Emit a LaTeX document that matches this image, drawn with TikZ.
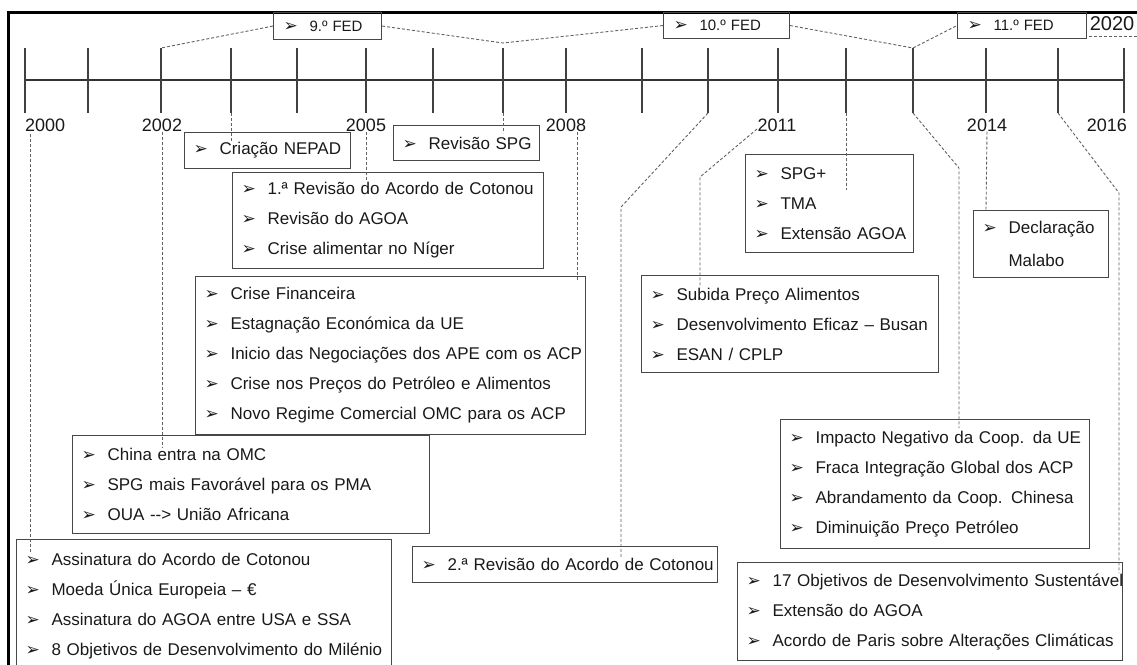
\documentclass[tikz,border=0pt]{standalone}
\usepackage{fontspec}
\setmainfont{Liberation Sans}
\newfontfamily\symfont{DejaVu Sans}
\usepackage{tikz}
\usetikzlibrary{positioning}
\colorlet{boxcol}{black!72}
\colorlet{txtcol}{black!90}
\colorlet{dashcol}{black!62}
\tikzset{
  evbox/.style={draw=boxcol, line width=1.1pt, anchor=north west, align=left,
    inner xsep=9pt, inner ysep=0pt, text=txtcol,
    font=\fontsize{17}{30}\selectfont},
  fedbox/.style={draw=boxcol, line width=1.1pt, anchor=north west, align=left,
    inner xsep=10pt, inner ysep=0pt, text=txtcol,
    font=\fontsize{15}{18}\selectfont},
  yearlab/.style={inner sep=0pt, text=txtcol, font=\fontsize{18}{20}\selectfont},
  tickline/.style={draw=black!75, line width=1.2pt},
  axisline/.style={draw=black!80, line width=1.2pt},
  link/.style={draw=dashcol, line width=0.9pt, dash pattern=on 3pt off 2pt},
}
\newcommand\bul{{\symfont\fontsize{17}{17}\selectfont ➢}}
\newcommand\itm[1]{\mbox{\makebox[26pt][l]{\bul}#1}}

\begin{document}
\begin{tikzpicture}[x=1pt,y=-1pt]
\useasboundingbox (0,0) rectangle (1137,664);
\clip (0,0) rectangle (1137,664);

% Frame
\draw[line width=3pt] (8,12) rectangle (1170,700);

% Timeline
\coordinate (axL) at (24,80);
\coordinate (axR) at (1124,80);
\draw[axisline] (axL) -- (axR);
\foreach \x [count=\i from 0] in {25,88,161,231,297,366,433,503,566,642,708,778,846,913,986,1058,1124}
  \draw[tickline] (\x,48) coordinate (top\i) -- (\x,113) coordinate (bot\i);

% Years
\node[yearlab, anchor=west] (lab00) at (25,125) {2000};
\node[yearlab] (lab02) at (162,125) {2002};
\node[yearlab] (lab05) at (366,125) {2005};
\node[yearlab] (lab08) at (566,125) {2008};
\node[yearlab] (lab11) at (777,125) {2011};
\node[yearlab] (lab14) at (987,125) {2014};
\node[yearlab, anchor=east] (lab16) at (1127,125) {2016};

% FED periods
\node[fedbox, minimum width=108pt, minimum height=27pt, text width=88pt] (fed9) at (273,12) {\itm{9.º FED}};
\node[fedbox, minimum width=126pt, minimum height=26pt, text width=106pt] (fed10) at (663,12) {\itm{10.º FED}};
\node[fedbox, minimum width=129pt, minimum height=26pt, text width=109pt] (fed11) at (957,12) {\itm{11.º FED}};
\node[inner sep=0pt, text=txtcol, font=\fontsize{20}{22}\selectfont] (y2020) at (1112,24) {2020};
\coordinate (j07) at (503,43);
\coordinate (e20a) at (1089,36);
\coordinate (e20b) at (1140,36);
\draw[link] (fed9.west) -- (top2);
\draw[link] (fed9.east) -- (j07) -- (fed10.west);
\draw[link] (fed10.east) -- (top13) -- (fed11.west);
\draw[link] (e20a) -- (e20b);

% Events
\node[evbox, minimum width=166pt, minimum height=36pt, text width=148pt] (nepad) at (184,132) {\itm{Criação NEPAD}};
\node[evbox, minimum width=146pt, minimum height=35pt, text width=128pt] (spgrev) at (393,125) {\itm{Revisão SPG}};
\node[evbox, minimum width=311pt, minimum height=96pt, text width=293pt] (rev1) at (232,172)
  {\itm{1.ª Revisão do Acordo de Cotonou}\\ \itm{Revisão do AGOA}\\ \itm{Crise alimentar no Níger}};
\node[evbox, minimum width=390pt, minimum height=158pt, text width=372pt] (crise) at (195,276)
  {\itm{Crise Financeira}\\ \itm{Estagnação Económica da UE}\\ \itm{Inicio das Negociações dos APE com os ACP}\\
   \itm{Crise nos Preços do Petróleo e Alimentos}\\ \itm{Novo Regime Comercial OMC para os ACP}};
\node[evbox, minimum width=357pt, minimum height=98pt, text width=339pt] (china) at (72,435)
  {\itm{China entra na OMC}\\ \itm{SPG mais Favorável para os PMA}\\ \itm{OUA -{}-> União Africana}};
\node[evbox, minimum width=375pt, minimum height=134pt, text width=357pt] (assin) at (16,539)
  {\itm{Assinatura do Acordo de Cotonou}\\ \itm{Moeda Única Europeia – €}\\
   \itm{Assinatura do AGOA entre USA e SSA}\\ \itm{8 Objetivos de Desenvolvimento do Milénio}};
\node[evbox, minimum width=305pt, minimum height=36pt, text width=287pt] (rev2) at (412,546) {\itm{2.ª Revisão do Acordo de Cotonou}};
\node[evbox, minimum width=168pt, minimum height=98pt, text width=150pt] (spgplus) at (745,154)
  {\itm{SPG+}\\ \itm{TMA}\\ \itm{Extensão AGOA}};
\node[evbox, minimum width=297pt, minimum height=97pt, text width=279pt] (subida) at (641,275)
  {\itm{Subida Preço Alimentos}\\ \itm{Desenvolvimento Eficaz – Busan}\\ \itm{ESAN / CPLP}};
\node[evbox, minimum width=135pt, minimum height=67pt, text width=117pt, font=\fontsize{17}{33}\selectfont] (malabo) at (973,210)
  {\itm{Declaração}\\ \hspace*{26pt}Malabo};
\node[evbox, minimum width=309pt, minimum height=129pt, text width=291pt] (impacto) at (780,419)
  {\itm{Impacto Negativo da Coop. da UE}\\ \itm{Fraca Integração Global dos ACP}\\
   \itm{Abrandamento da Coop. Chinesa}\\ \itm{Diminuição Preço Petróleo}};
\node[evbox, minimum width=385pt, minimum height=98pt, text width=367pt] (ods) at (737,562)
  {\itm{17 Objetivos de Desenvolvimento Sustentável}\\ \itm{Extensão do AGOA}\\
   \itm{Acordo de Paris sobre Alterações Climáticas}};

% Links from the years
\coordinate (s00) at (30,134);  \coordinate (e00) at (30,553);
\coordinate (e02) at (162,447);
\coordinate (e03) at (231,142);
\coordinate (e05) at (366,181);
\coordinate (e07) at (503,133);
\coordinate (s08) at (577,132); \coordinate (e08) at (577,281);
\coordinate (k10) at (621,207); \coordinate (e10) at (621,557);
\coordinate (s11) at (757,129); \coordinate (k11) at (700,177); \coordinate (e11) at (700,287);
\coordinate (e12) at (846,190);
\coordinate (k13) at (959,168); \coordinate (e13) at (959,428);
\coordinate (e14) at (986,210);
\coordinate (k15) at (1119,193); \coordinate (e15) at (1119,573);
\draw[link] (s00) -- (e00);
\draw[link] (lab02.south) -- (e02);
\draw[link] (bot3) -- (e03);
\draw[link] (lab05.south) -- (e05);
\draw[link] (bot7) -- (e07);
\draw[link] (s08) -- (e08);
\draw[link] (bot10) -- (k10) -- (e10);
\draw[link] (s11) -- (k11) -- (e11);
\draw[link] (bot12) -- (e12);
\draw[link] (bot13) -- (k13) -- (e13);
\draw[link] (lab14.south) -- (e14);
\draw[link] (bot15) -- (k15) -- (e15);
\end{tikzpicture}
\end{document}
